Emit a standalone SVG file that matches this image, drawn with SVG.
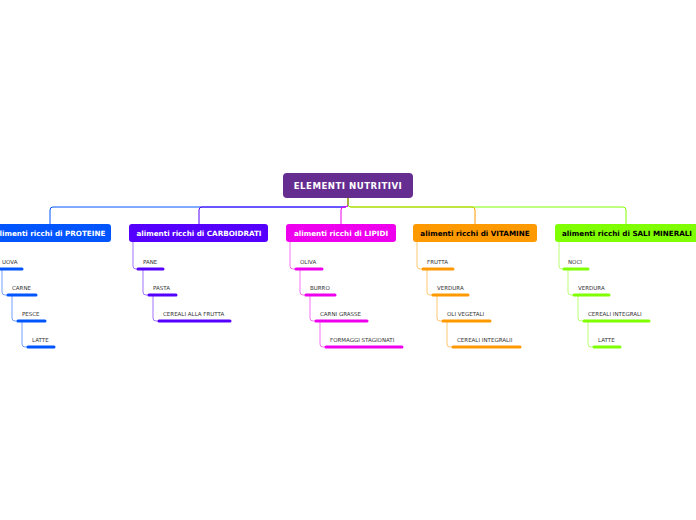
<svg xmlns="http://www.w3.org/2000/svg" width="696" height="520" viewBox="0 0 696 520">
<style>
.bt{font-family:"DejaVu Sans",Verdana,sans-serif;font-weight:bold;font-size:7.2px;text-anchor:middle}
.rt{font-family:"DejaVu Sans",Verdana,sans-serif;font-weight:bold;font-size:8.6px;fill:#fff;text-anchor:middle;letter-spacing:0.5px}
.st{font-family:"DejaVu Sans",Verdana,sans-serif;font-size:5.5px;fill:#333}
.c{fill:none;stroke-width:1}
.u{fill:none;stroke-width:3;stroke-linecap:round}
.v{fill:none;stroke-width:1;stroke-opacity:0.55}
</style>
<rect width="696" height="520" fill="#fff"/>
<g id="connectors">
<path class="c" stroke="#0055ff" d="M348,198 V204 Q348,207 345,207 H53 Q50,207 50,210 V224"/>
<path class="c" stroke="#5500ff" d="M348,198 V204 Q348,207 345,207 H202 Q199,207 199,210 V224"/>
<path class="c" stroke="#ee00ee" d="M348,198 V204 Q348,207 345,207 H344 Q341,207 341,210 V224"/>
<path class="c" stroke="#ff9900" d="M348,198 V204 Q348,207 351,207 H472 Q475,207 475,210 V224"/>
<path class="c" stroke="#80ff00" d="M348,198 V204 Q348,207 351,207 H623 Q626,207 626,210 V224"/>
<path class="v" stroke="#0055ff" d="M2,269 V292 Q2,295 5,295 H8 M12,295 V318 Q12,321 15,321 H18 M22,321 V344 Q22,347 25,347 H28"/>
<path class="v" stroke="#5500ff" d="M133,242 V266 Q133,269 136,269 H138 M143,269 V292 Q143,295 146,295 H149 M153,295 V318 Q153,321 156,321 H159"/>
<path class="v" stroke="#ee00ee" d="M290,242 V266 Q290,269 293,269 H296 M300,269 V292 Q300,295 303,295 H306 M310,295 V318 Q310,321 313,321 H316 M320,321 V344 Q320,347 323,347 H326"/>
<path class="v" stroke="#ff9900" d="M417,242 V266 Q417,269 420,269 H423 M427,269 V292 Q427,295 430,295 H433 M437,295 V318 Q437,321 440,321 H443 M447,321 V344 Q447,347 450,347 H453"/>
<path class="v" stroke="#80ff00" d="M559,242 V266 Q559,269 562,269 H564 M568,269 V292 Q568,295 571,295 H574 M578,295 V318 Q578,321 581,321 H584 M588,321 V344 Q588,347 591,347 H594"/>
</g>
<g id="root">
<rect x="283" y="173" width="130" height="25" rx="4" fill="#662d91"/>
<text class="rt" x="348" y="189">ELEMENTI NUTRITIVI</text>
</g>
<g id="proteine">
<rect x="-10" y="224" width="121" height="18" rx="3" fill="#0055ff"/>
<text class="bt" x="50" y="236" fill="#fff">alimenti ricchi di PROTEINE</text>
</g>
<g id="carboidrati">
<rect x="129" y="224" width="139" height="18" rx="3" fill="#5500ff"/>
<text class="bt" x="199" y="236" fill="#fff">alimenti ricchi di CARBOIDRATI</text>
</g>
<g id="lipidi">
<rect x="286" y="224" width="110" height="18" rx="3" fill="#ee00ee"/>
<text class="bt" x="341" y="236" fill="#fff">alimenti ricchi di LIPIDI</text>
</g>
<g id="vitamine">
<rect x="413" y="224" width="124" height="18" rx="3" fill="#ff9900"/>
<text class="bt" x="475" y="236" fill="#000">alimenti ricchi di VITAMINE</text>
</g>
<g id="sali">
<rect x="555" y="224" width="145" height="18" rx="3" fill="#80ff00"/>
<text class="bt" x="627" y="236" fill="#000">alimenti ricchi di SALI MINERALI</text>
</g>
<g id="p1"><text class="st" x="2" y="264">UOVA</text><path class="u" stroke="#0055ff" d="M0,269 H22"/></g>
<g id="p2"><text class="st" x="12" y="290">CARNE</text><path class="u" stroke="#0055ff" d="M8,295 H36"/></g>
<g id="p3"><text class="st" x="22" y="316">PESCE</text><path class="u" stroke="#0055ff" d="M18,321 H45"/></g>
<g id="p4"><text class="st" x="32" y="342">LATTE</text><path class="u" stroke="#0055ff" d="M28,347 H54"/></g>
<g id="c1"><text class="st" x="143" y="264">PANE</text><path class="u" stroke="#5500ff" d="M138,269 H163"/></g>
<g id="c2"><text class="st" x="153" y="290">PASTA</text><path class="u" stroke="#5500ff" d="M149,295 H176"/></g>
<g id="c3"><text class="st" x="163" y="316">CEREALI ALLA FRUTTA</text><path class="u" stroke="#5500ff" d="M159,321 H230"/></g>
<g id="l1"><text class="st" x="300" y="264">OLIVA</text><path class="u" stroke="#ee00ee" d="M296,269 H322"/></g>
<g id="l2"><text class="st" x="310" y="290">BURRO</text><path class="u" stroke="#ee00ee" d="M306,295 H335"/></g>
<g id="l3"><text class="st" x="320" y="316">CARNI GRASSE</text><path class="u" stroke="#ee00ee" d="M316,321 H367"/></g>
<g id="l4"><text class="st" x="330" y="342">FORMAGGI STAGIONATI</text><path class="u" stroke="#ee00ee" d="M326,347 H402"/></g>
<g id="v1"><text class="st" x="427" y="264">FRUTTA</text><path class="u" stroke="#ff9900" d="M423,269 H453"/></g>
<g id="v2"><text class="st" x="437" y="290">VERDURA</text><path class="u" stroke="#ff9900" d="M433,295 H468"/></g>
<g id="v3"><text class="st" x="447" y="316">OLI VEGETALI</text><path class="u" stroke="#ff9900" d="M443,321 H490"/></g>
<g id="v4"><text class="st" x="457" y="342">CEREALI INTEGRALII</text><path class="u" stroke="#ff9900" d="M453,347 H520"/></g>
<g id="s1"><text class="st" x="568" y="264">NOCI</text><path class="u" stroke="#80ff00" d="M564,269 H588"/></g>
<g id="s2"><text class="st" x="578" y="290">VERDURA</text><path class="u" stroke="#80ff00" d="M574,295 H609"/></g>
<g id="s3"><text class="st" x="588" y="316">CEREALI INTEGRALI</text><path class="u" stroke="#80ff00" d="M584,321 H649"/></g>
<g id="s4"><text class="st" x="598" y="342">LATTE</text><path class="u" stroke="#80ff00" d="M594,347 H620"/></g>
</svg>
